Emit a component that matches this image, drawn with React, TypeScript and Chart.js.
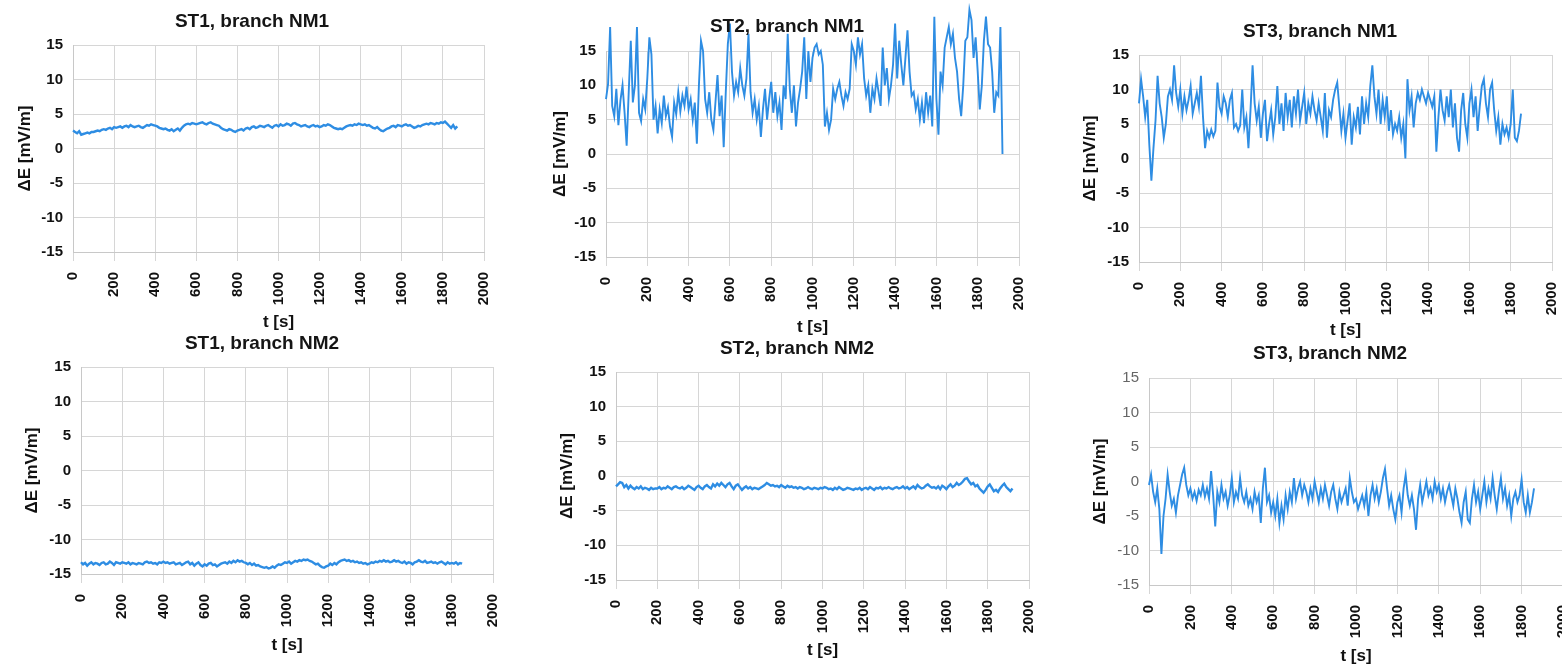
import React, { useEffect, useRef } from "react";
import { Chart, registerables } from "chart.js";

Chart.register(...registerables);

const T_STEP = 10;

const X_TICKS = [0, 200, 400, 600, 800, 1000, 1200, 1400, 1600, 1800, 2000];
const Y_TICKS = [-15, -10, -5, 0, 5, 10, 15];

const TITLES = [
  "ST1, branch NM1",
  "ST2, branch NM1",
  "ST3, branch NM1",
  "ST1, branch NM2",
  "ST2, branch NM2",
  "ST3, branch NM2",
];

const ST1_NM1 = [
  2.6, 2.4, 2.2, 2.5, 2.0, 2.1,
  2.2, 2.3, 2.2, 2.4, 2.4,
  2.5, 2.6, 2.5, 2.7, 2.8, 2.7, 2.9, 3.0, 2.8, 3.1,
  3.0, 3.1, 3.2, 3.0, 3.2, 3.3, 3.1, 3.4, 3.2, 3.1,
  3.2, 3.3, 3.1, 3.0, 3.2, 3.4, 3.3, 3.5, 3.4, 3.3,
  3.2, 3.0, 2.9, 2.8, 2.9, 2.7, 2.6, 2.8, 2.5, 2.7,
  2.9, 2.6, 3.0, 3.3, 3.5, 3.6, 3.5, 3.7, 3.6, 3.5,
  3.6, 3.7, 3.8, 3.6, 3.5, 3.7, 3.8, 3.6, 3.5, 3.4,
  3.3, 3.0, 2.8, 2.7, 2.6, 2.8, 2.7, 2.5, 2.4, 2.6,
  2.7, 2.8, 2.6, 2.9, 3.0, 2.8, 3.1, 3.2, 3.0, 3.1,
  3.3, 3.2, 3.1, 3.3, 3.4, 3.2, 3.0, 3.3, 3.4, 3.2,
  3.5, 3.3, 3.4, 3.6, 3.5, 3.3, 3.6, 3.7, 3.5, 3.4,
  3.2, 3.3, 3.4, 3.2, 3.1, 3.3, 3.4, 3.2, 3.3, 3.1,
  3.2, 3.4, 3.3, 3.5, 3.4, 3.2, 3.0, 2.9, 2.8, 2.9,
  2.8, 3.0, 3.2, 3.3, 3.4, 3.3, 3.5, 3.4, 3.6, 3.5,
  3.4, 3.5, 3.3, 3.4, 3.2, 3.0, 2.9, 3.1, 2.8, 2.6,
  2.5, 2.7, 2.9, 3.0, 3.2, 3.3, 3.1, 3.4, 3.3, 3.2,
  3.4, 3.5, 3.3, 3.4, 3.2, 3.0, 3.1, 3.3, 3.2, 3.4,
  3.5, 3.6, 3.5, 3.7, 3.6, 3.5, 3.7, 3.6, 3.8, 3.7,
  3.9, 3.6, 3.3, 3.0, 3.4, 2.9, 3.2,
];

const ST2_NM1 = [
  8.0, 10.2, 18.5, 7.0, 5.5, 9.5, 4.2, 7.8, 10.0, 6.0,
  1.2, 9.0, 16.5, 7.5, 10.0, 18.5, 6.0, 4.8, 8.0, 6.5,
  11.0, 17.0, 14.5, 5.0, 7.0, 3.0, 6.5, 4.5, 8.5, 5.5,
  6.8, 4.0, 2.5, 7.5, 5.8, 9.0, 6.2, 8.5, 7.0, 9.8,
  6.5, 8.0, 5.0, 7.5, 1.5, 10.0, 16.5, 15.0, 8.0, 6.0,
  9.0, 5.0, 3.5, 7.5, 11.5, 5.5, 8.5, 1.0, 9.0, 16.0,
  19.0, 12.0, 8.5, 10.5, 9.0, 12.5, 10.0, 8.5, 11.0, 17.5,
  9.0, 6.0, 8.0, 5.0, 7.0, 2.5, 6.5, 9.5, 5.0, 8.0,
  10.5, 6.0, 9.0, 5.5, 7.5, 3.5, 10.0, 8.0, 17.5, 9.5,
  6.0, 10.0, 4.0, 7.5, 9.5, 12.0, 17.0, 8.0, 15.0, 10.5,
  14.0, 15.5, 16.0, 14.5, 15.0, 13.0, 4.0, 6.0, 3.5, 5.0,
  9.5, 8.0, 9.5, 10.5, 8.5, 7.0, 9.0, 8.0, 9.5, 16.0,
  15.0, 13.0, 17.0, 14.5, 16.0, 11.0, 8.5, 10.0, 6.0, 9.5,
  8.0, 11.0, 9.0, 7.0, 15.5, 10.0, 12.5, 8.0, 10.0, 13.0,
  19.0, 11.0, 16.5, 13.0, 10.0, 14.0, 18.0, 12.0, 8.5, 9.0,
  6.5, 8.0, 5.0, 7.5, 4.5, 9.0, 6.0, 8.5, 4.0, 20.0,
  8.0, 2.8, 12.0, 10.0, 15.5, 17.0, 18.5, 16.0, 17.5, 14.0,
  12.0, 8.0, 5.5, 10.0, 16.5, 17.0, 21.0, 19.5, 14.0, 17.0,
  12.0, 6.5, 10.0, 16.5, 20.0, 16.0, 15.5, 12.0, 6.0, 9.0,
  8.5, 18.5, 0.0,
];

const ST3_NM1 = [
  8.0, 11.5, 9.0, 6.0, 8.5, 2.0, -3.2, 1.5, 5.5, 12.0,
  8.0, 6.0, 3.0, 5.0, 9.0, 10.0, 8.5, 13.5, 9.5, 7.5,
  10.0, 6.5, 9.0, 7.0, 8.5, 10.5, 6.5, 8.0, 9.5, 7.5,
  12.0, 6.0, 1.5, 4.0, 3.0, 4.2, 3.2, 4.0, 11.0, 7.5,
  6.5, 9.0, 8.0, 6.0, 8.5, 9.5, 4.5, 5.0, 4.0, 4.8,
  10.0, 4.5, 6.0, 1.5, 7.0, 13.5, 8.0, 5.5, 7.5, 3.0,
  6.5, 8.5, 2.5, 5.0, 7.0, 3.5, 6.0, 10.5, 5.0, 8.0,
  4.0, 9.5, 6.0, 8.5, 4.5, 9.0, 6.5, 10.0, 5.5, 7.5,
  9.5, 5.0, 8.0, 6.5, 9.0, 7.0, 5.5, 8.0, 6.0, 4.0,
  9.5, 3.0, 7.0, 6.0, 8.5, 10.0, 11.0, 7.5, 4.0, 6.5,
  3.0, 5.5, 8.0, 2.0, 6.0, 4.5, 7.5, 3.5, 9.0, 5.0,
  8.0, 6.0, 10.5, 13.5, 9.0, 6.5, 10.0, 5.0, 8.5, 6.0,
  9.0, 4.0, 7.0, 3.5, 5.0, 4.0, 6.0, 3.0, 5.0, 0.0,
  11.5, 7.0, 9.0, 4.5, 8.0, 9.5, 8.5, 10.0, 9.0, 8.0,
  9.5, 8.5, 7.5, 9.0, 1.0, 6.0, 10.0, 7.0, 5.5, 9.0,
  6.0, 10.0, 4.5, 8.0, 3.0, 1.0, 7.0, 9.5, 5.0, 3.0,
  8.0, 10.0, 6.0, 9.0, 4.0, 7.5, 10.5, 11.5, 8.0, 6.0,
  10.0, 11.0, 7.0, 4.0, 6.0, 2.0, 5.0, 3.5, 4.5, 3.0,
  5.0, 10.0, 3.0, 2.5, 4.0, 6.5,
];

const ST1_NM2 = [
  -13.3, -13.6, -13.4, -13.8, -13.5, -13.3, -13.6, -13.4, -13.5, -13.7,
  -13.4, -13.3, -13.6, -13.5, -13.2, -13.4, -13.7, -13.3, -13.4, -13.5,
  -13.3, -13.4, -13.5, -13.3, -13.6, -13.4, -13.5, -13.6, -13.4, -13.5,
  -13.6, -13.3, -13.2, -13.4, -13.3, -13.5, -13.4, -13.6, -13.3, -13.4,
  -13.2, -13.4, -13.3, -13.5, -13.4, -13.3, -13.6, -13.5, -13.4, -13.7,
  -13.5, -13.3, -13.2, -13.6, -13.4, -13.8, -13.5, -13.3, -13.7, -13.9,
  -13.6, -13.8, -13.5, -13.4, -13.7, -13.6, -13.9, -13.7, -13.5, -13.4,
  -13.3, -13.5, -13.2, -13.4, -13.1, -13.3, -13.0, -13.2, -13.1, -13.3,
  -13.4, -13.6, -13.4, -13.7, -13.5, -13.8, -13.7, -13.9, -14.0, -14.1,
  -14.0, -14.2, -14.1, -13.9, -14.1, -13.8, -13.6, -13.7, -13.5, -13.3,
  -13.4, -13.2, -13.5, -13.3, -13.1, -13.2, -13.0, -13.1, -12.9, -13.0,
  -12.9, -13.1, -13.2, -13.4, -13.6, -13.5, -13.8, -14.0, -14.1, -13.9,
  -13.8, -13.5, -13.7, -13.4, -13.6, -13.3, -13.1, -13.0, -12.9, -13.1,
  -13.0, -13.2, -13.1, -13.3, -13.2, -13.4, -13.3, -13.5, -13.4, -13.6,
  -13.5, -13.3, -13.4, -13.2, -13.3, -13.1, -13.2, -13.0, -13.2, -13.1,
  -13.3, -13.2, -13.0, -13.2, -13.1, -13.3, -13.4, -13.2, -13.5, -13.3,
  -13.4, -13.6, -13.3, -13.2, -13.0, -13.2, -13.3, -13.1, -13.4, -13.3,
  -13.2, -13.4, -13.3, -13.5, -13.3, -13.2, -13.4, -13.6, -13.3, -13.5,
  -13.4, -13.5, -13.3, -13.6, -13.4, -13.5,
];

const ST2_NM2 = [
  -1.5, -1.2, -0.9, -1.0, -1.6, -1.3, -1.8, -1.4, -1.7, -1.9,
  -1.6, -1.8, -1.5, -1.9, -1.7, -1.8, -2.0, -1.7, -1.9, -1.8,
  -1.8, -1.6, -1.9, -1.7, -1.8, -1.5, -1.7, -1.9, -1.6, -1.5,
  -1.7, -1.8, -1.6, -1.9, -1.7, -1.4, -1.6, -1.8, -2.0, -1.6,
  -1.4, -1.7, -1.9, -1.5, -1.3, -1.6, -1.8, -1.2, -1.5, -1.1,
  -1.4, -1.0, -1.3, -1.6, -1.2, -1.0, -1.5, -1.9, -1.4, -1.2,
  -1.6, -2.0, -1.7, -1.5, -1.8, -1.6, -1.9, -1.7, -1.8, -1.9,
  -1.7, -1.5, -1.3, -1.0, -1.2, -1.4, -1.3, -1.5, -1.4, -1.6,
  -1.3, -1.5, -1.7, -1.4, -1.6, -1.5, -1.7, -1.6, -1.8, -1.6,
  -1.7, -1.9, -1.8, -1.6, -1.8, -1.9, -1.7, -1.8, -1.9, -1.7,
  -1.8, -1.6, -1.7, -1.9, -1.8, -2.0, -1.7, -1.9, -1.6, -1.8,
  -2.0, -1.9, -1.7, -1.8, -1.9, -2.0, -1.8, -1.9, -1.7, -2.0,
  -1.8, -1.7, -1.9, -1.6, -1.8, -2.0, -1.7, -1.8, -1.6, -1.9,
  -1.7, -1.8, -1.6, -1.8, -1.9, -1.7, -1.6, -1.8, -1.7, -1.5,
  -1.8, -1.6, -1.9, -1.7, -1.5, -1.8, -1.3, -1.6, -1.8, -1.7,
  -1.4, -1.2, -1.5, -1.7, -1.6, -1.8, -1.5, -1.9, -1.4, -1.6,
  -1.9, -1.5, -1.2, -1.6, -1.4, -1.0, -1.3, -1.1, -0.8, -0.4,
  -0.3, -0.8, -1.2, -1.0, -1.5, -1.3, -1.8, -2.1, -2.4, -2.0,
  -1.5, -1.2, -1.7, -2.2, -2.0, -2.3, -1.8, -1.4, -1.1, -1.6,
  -1.9, -2.2, -1.8,
];

const ST3_NM2 = [
  -0.5, 1.0, -1.5, -3.0, -1.0, -4.0, -10.5, -5.0, -2.5, 1.0,
  -1.5, -3.5, -2.5, -4.5, -2.0, -0.5, 1.0, 2.0, -0.5, -2.0,
  -1.0, -2.5, -1.5, -2.8, -1.2, -2.0, -0.5, -2.2, -1.0, -2.5,
  1.5, -2.0, -6.5, -1.5, -3.0, -0.5, -2.5, -1.5, -3.5, -2.0,
  0.5, -3.0, -1.5, -2.5, 0.5, -2.0, -3.0, -1.5, -3.5, -2.5,
  -4.0, -1.5, -3.0, -2.0, -6.0, -1.0, 2.0, -3.0, -2.0, -4.5,
  -3.0, -5.0, -2.5, -6.0, -3.5, -5.5, -2.0, -4.0, -1.5, -3.0,
  0.5, -2.5, -1.0, 0.0, -2.0, -0.5, -1.5, -3.0, -1.0, -2.5,
  0.0, -1.5, -3.0, -1.0, -2.5, -0.5, -2.0, -3.5, -1.5, -0.5,
  -2.5, -4.0, -1.5, -3.0, -2.0, -1.0, -3.5, 0.5, -1.5, -3.0,
  -2.5, -4.0, -3.0, -2.0, -3.5, -1.5, -5.0, -2.0, -0.5, -2.5,
  -1.0, -3.0, -1.5, 0.5, 1.8, -1.0, -3.5, -2.0, -4.0, -5.5,
  -3.0, -2.0, -4.5, -1.0, 1.0, -2.0, -3.5, -2.0, -4.0, -7.0,
  -2.5, -0.5, -3.0, -1.5, 0.0, -2.0, -1.0, -2.5, 0.0, -1.5,
  -0.5, -2.5, -1.0, -3.0, -1.5, -0.5, -2.0, -3.5, -1.0, -2.5,
  -4.5, -6.0, -3.0, -1.5, -5.5, -6.0, -2.5, -0.5, -3.0, -1.5,
  -4.0, -2.0, 0.0, -3.0, -1.0, -2.5, 0.5, -2.0, -4.0, -1.5,
  0.5, -2.5, -1.0, -3.5, -2.0, -5.0, -2.5, -1.5, -3.0, -2.0,
  0.3, -3.0, -4.5, -2.0, -4.5, -3.0, -1.0,
];

const SERIES = [ST1_NM1, ST2_NM1, ST3_NM1, ST1_NM2, ST2_NM2, ST3_NM2];

// layout of each panel in page pixels
type Panel = {
  canvas: [number, number, number, number]; // left, top, width, height
  plot: [number, number, number, number]; // L, T, R, B
  titlePos: [number, number];
  yLabelX: number;
  xLabelY: number;
  yTickColor: string;
  yTickWeight: string;
};

const PANELS: Panel[] = [
  { canvas: [0, 0, 520, 345], plot: [73, 45, 484, 252], titlePos: [252, 22], yLabelX: 25, xLabelY: 322, yTickColor: "#111", yTickWeight: "bold" },
  { canvas: [520, 0, 520, 345], plot: [606, 51, 1019, 257], titlePos: [787, 27], yLabelX: 560, xLabelY: 327, yTickColor: "#111", yTickWeight: "bold" },
  { canvas: [1040, 0, 530, 345], plot: [1139, 55, 1552, 262], titlePos: [1320, 32], yLabelX: 1090, xLabelY: 330, yTickColor: "#111", yTickWeight: "bold" },
  { canvas: [0, 333, 520, 340], plot: [81, 367, 493, 574], titlePos: [262, 344], yLabelX: 32, xLabelY: 645, yTickColor: "#111", yTickWeight: "bold" },
  { canvas: [520, 333, 520, 340], plot: [616, 372, 1029, 580], titlePos: [797, 349], yLabelX: 567, xLabelY: 650, yTickColor: "#111", yTickWeight: "bold" },
  { canvas: [1040, 333, 530, 340], plot: [1149, 378, 1563, 585], titlePos: [1330, 354], yLabelX: 1100, xLabelY: 656, yTickColor: "#666", yTickWeight: "normal" },
];

const FONT = "'Liberation Sans', Arial, Helvetica, sans-serif";
const LINE_COLOR = "#2e8de3";
const GRID_COLOR = "#d6d6d6";
const LABEL_SIZE = 17;
const LABEL_LH = LABEL_SIZE * 1.2;

const panelTitlePlugin = {
  id: "panelTitle",
  afterDraw(chart: any, _args: any, opts: any) {
    const ctx = chart.ctx;
    ctx.save();
    ctx.font = `bold 19px ${FONT}`;
    ctx.fillStyle = "#151515";
    ctx.textAlign = "center";
    ctx.textBaseline = "middle";
    ctx.fillText(opts.text, opts.x, opts.y);
    ctx.restore();
  },
};

function PanelChart({ index }: { index: number }) {
  const ref = useRef<HTMLCanvasElement | null>(null);
  const p = PANELS[index];
  const [cL, cT, cW, cH] = p.canvas;
  const [L, T, R, B] = p.plot;

  useEffect(() => {
    if (!ref.current) return;
    const values = SERIES[index];
    const points = values.map((v, i) => ({ x: i * T_STEP, y: v }));
    const yWidth = L - cL;
    const xHeight = cT + cH - B;
    const smooth = index === 0 || index === 3 || index === 4;
    const chart = new Chart(ref.current, {
      type: "line",
      data: {
        datasets: [
          {
            data: points,
            borderColor: LINE_COLOR,
            borderWidth: smooth ? 2.4 : 1.9,
            pointRadius: 0,
            tension: 0,
            fill: false,
            clip: false as any,
          },
        ],
      },
      options: {
        responsive: false,
        animation: false,
        devicePixelRatio: 1,
        layout: {
          padding: { left: 0, top: T - cT, right: cL + cW - R, bottom: 0 },
        },
        plugins: {
          legend: { display: false },
          tooltip: { enabled: false },
          title: { display: false },
          panelTitle: { text: TITLES[index], x: p.titlePos[0] - cL, y: p.titlePos[1] - cT },
        } as any,
        scales: {
          x: {
            type: "linear",
            min: X_TICKS[0],
            max: X_TICKS[X_TICKS.length - 1],
            afterBuildTicks: (s: any) => {
              s.ticks = X_TICKS.map((v) => ({ value: v }));
            },
            ticks: {
              autoSkip: false,
              maxRotation: 90,
              minRotation: 90,
              padding: 11,
              color: "#111",
              font: { family: FONT, size: 15, weight: "bold" },
              callback: (v: any) => String(v),
            },
            grid: { color: GRID_COLOR, drawTicks: true, tickLength: 9 },
            border: { color: "#c8c8c8" },
            title: {
              display: true,
              text: "t [s]",
              color: "#111",
              font: { family: FONT, size: LABEL_SIZE, weight: "bold" },
              padding: { top: 0, bottom: cT + cH - p.xLabelY - LABEL_LH / 2 },
            },
            afterFit: (s: any) => {
              s.height = xHeight;
              s.paddingLeft = 0;
              s.paddingRight = 0;
            },
          },
          y: {
            type: "linear",
            min: Y_TICKS[0],
            max: Y_TICKS[Y_TICKS.length - 1],
            afterBuildTicks: (s: any) => {
              s.ticks = Y_TICKS.map((v) => ({ value: v }));
            },
            ticks: {
              padding: 10,
              color: p.yTickColor,
              font: { family: FONT, size: 15, weight: p.yTickWeight as any },
              callback: (v: any) => String(v),
            },
            grid: { color: GRID_COLOR, drawTicks: false },
            border: { color: "#c8c8c8" },
            title: {
              display: true,
              text: "ΔE [mV/m]",
              color: "#111",
              font: { family: FONT, size: LABEL_SIZE, weight: "bold" },
              padding: { top: p.yLabelX - cL - LABEL_LH / 2, bottom: 0 },
            },
            afterFit: (s: any) => {
              s.width = yWidth;
              s.paddingTop = 0;
              s.paddingBottom = 0;
            },
          },
        },
      },
      plugins: [panelTitlePlugin as any],
    });
    return () => chart.destroy();
  }, [index]);

  return (
    <canvas
      ref={ref}
      width={cW}
      height={cH}
      style={{ position: "absolute", left: cL, top: cT, width: cW, height: cH }}
    />
  );
}

export default function App() {
  return (
    <div
      style={{
        position: "absolute",
        left: 0,
        top: 0,
        width: 1562,
        height: 666,
        overflow: "hidden",
        background: "#ffffff",
      }}
    >
      {PANELS.map((_, i) => (
        <PanelChart key={i} index={i} />
      ))}
    </div>
  );
}
